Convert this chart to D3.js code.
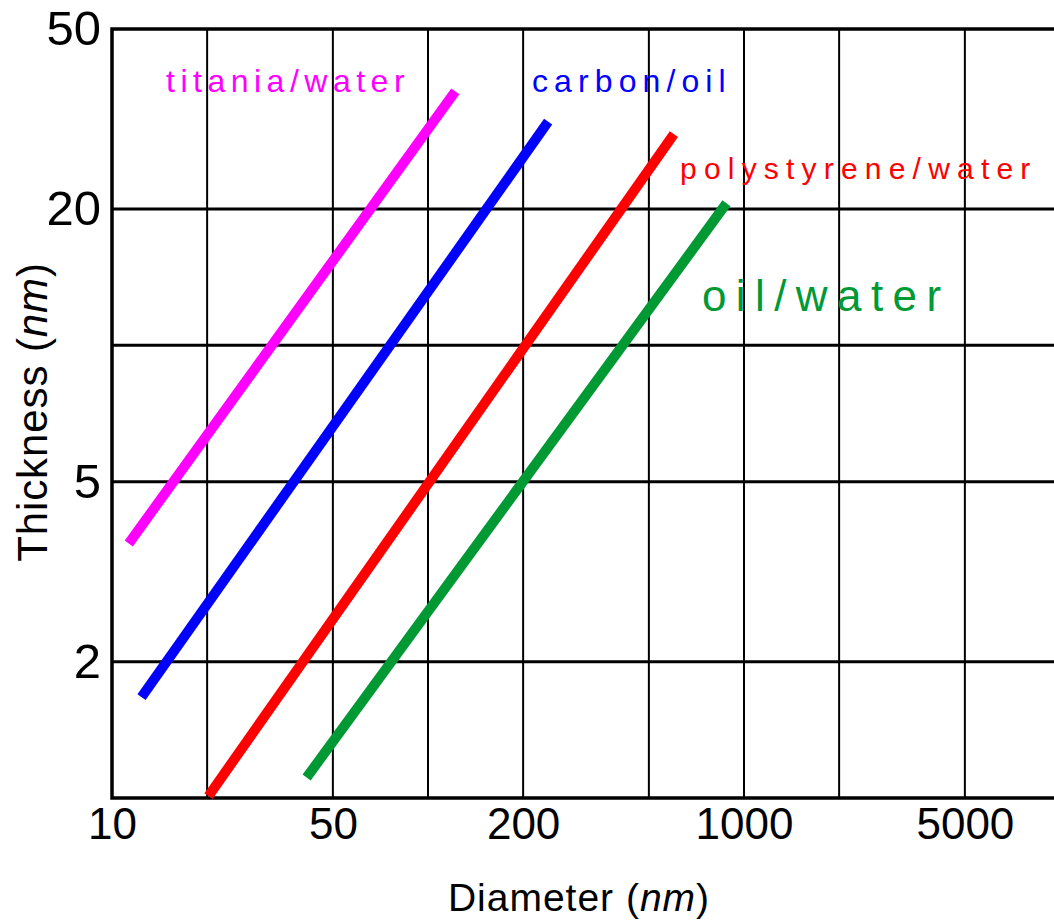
<!DOCTYPE html>
<html>
<head>
<meta charset="utf-8">
<script src="https://cdn.jsdelivr.net/npm/d3@7"></script>
<style>
  body { margin: 0; background: #fff; }
  svg { display: block; font-family: "Liberation Sans", Arial, sans-serif; }
</style>
</head>
<body>
<svg width="1054" height="924"></svg>
<script>
// data
const systems = ["titania/water", "carbon/oil", "polystyrene/water", "oil/water"];
const colors = ["#ff00ff", "#0000ff", "#ff0000", "#009933"];
// [start, end] of each line
const diameters = [[11.3, 122], [12.4, 240], [20.2, 600], [41.3, 880]];
const thicknesses = [[3.65, 36.4], [1.67, 31.2], [1.01, 29.3], [1.11, 20.6]];

const xTicks = [10, 50, 200, 1000, 5000];
const xGrid = [20, 50, 100, 200, 500, 1000, 2000, 5000];
const yTicks = [2, 5, 20, 50];
const yGrid = [2, 5, 10, 20];

const svg = d3.select("svg"),
  width = +svg.attr("width"),
  height = +svg.attr("height");

const x = d3.scaleLog()
  .domain([10, 10000])
  .range([112, 1060]);

const y = d3.scaleLog()
  .domain([1, 50])
  .range([798, 29]);

// grid
svg.append("g")
  .selectAll("line")
  .data(xGrid)
  .enter().append("line")
  .attr("x1", d => x(d)).attr("x2", d => x(d))
  .attr("y1", y(50)).attr("y2", y(1))
  .attr("stroke", "#000")
  .attr("stroke-width", 2);

svg.append("g")
  .selectAll("line")
  .data(yGrid)
  .enter().append("line")
  .attr("x1", x(10)).attr("x2", width)
  .attr("y1", d => y(d)).attr("y2", d => y(d))
  .attr("stroke", "#000")
  .attr("stroke-width", 3);

// frame: top, left, bottom
svg.append("path")
  .attr("d", `M${width},${y(50)}H${x(10)}V${y(1)}H${width}`)
  .attr("fill", "none")
  .attr("stroke", "#000")
  .attr("stroke-width", 3.5);

// axes
const yAxis = svg.append("g")
  .attr("transform", `translate(${x(10)},0)`)
  .call(d3.axisLeft(y).tickValues(yTicks).tickSize(0).tickPadding(11).tickFormat(d3.format("d")));
yAxis.select(".domain").remove();
yAxis.selectAll("text")
  .attr("font-size", 49)
  .attr("font-family", "Liberation Sans, Arial, sans-serif")
  .attr("fill", "#000");

const xAxis = svg.append("g")
  .attr("transform", `translate(0,${y(1)})`)
  .call(d3.axisBottom(x).tickValues(xTicks).tickSize(0).tickPadding(10).tickFormat(d3.format("d")));
xAxis.select(".domain").remove();
xAxis.selectAll("text")
  .attr("font-size", 44)
  .attr("font-family", "Liberation Sans, Arial, sans-serif")
  .attr("fill", "#000");

// lines
const line = d3.line()
  .x(d => x(d[0]))
  .y(d => y(d[1]));

svg.append("g")
  .selectAll("path")
  .data(systems)
  .enter().append("path")
  .attr("d", (d, i) => line(d3.zip(diameters[i], thicknesses[i])))
  .attr("fill", "none")
  .attr("stroke", (d, i) => colors[i])
  .attr("stroke-width", 10)
  .attr("stroke-linecap", "butt");

// labels
const labelStyle = [
  { x: 166, y: 92, size: 32, spacing: 5.5 },
  { x: 532, y: 92, size: 32, spacing: 6.1 },
  { x: 680, y: 179, size: 30, spacing: 7.2 },
  { x: 702, y: 311, size: 44, spacing: 9.4 }
];

svg.append("g")
  .selectAll("text")
  .data(systems)
  .enter().append("text")
  .attr("x", (d, i) => labelStyle[i].x)
  .attr("y", (d, i) => labelStyle[i].y)
  .attr("font-size", (d, i) => labelStyle[i].size)
  .attr("letter-spacing", (d, i) => labelStyle[i].spacing)
  .attr("fill", (d, i) => colors[i])
  .text(d => d);

// axis titles
const xTitle = svg.append("text")
  .attr("x", 579)
  .attr("y", 911)
  .attr("text-anchor", "middle")
  .attr("font-size", 39)
  .attr("letter-spacing", 1)
  .attr("fill", "#000");
xTitle.append("tspan").text("Diameter (");
xTitle.append("tspan").attr("font-style", "italic").text("nm");
xTitle.append("tspan").text(")");

const yTitle = svg.append("text")
  .attr("transform", "translate(47,412) rotate(-90)")
  .attr("text-anchor", "middle")
  .attr("font-size", 42)
  .attr("letter-spacing", 0.9)
  .attr("fill", "#000");
yTitle.append("tspan").text("Thickness (");
yTitle.append("tspan").attr("font-style", "italic").text("nm");
yTitle.append("tspan").text(")");
</script>
</body>
</html>
